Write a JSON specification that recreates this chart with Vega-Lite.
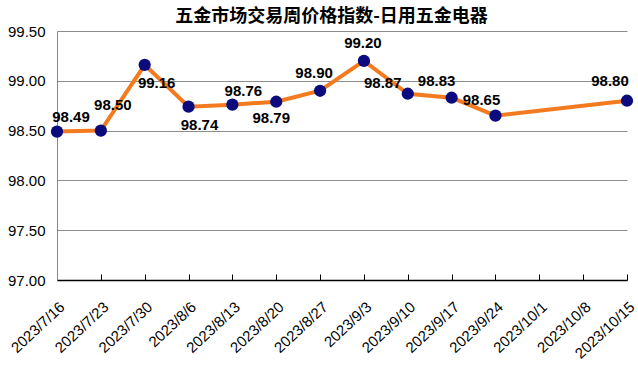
{
  "$schema": "https://vega.github.io/schema/vega-lite/v6.json",
  "width": 575,
  "height": 249,
  "autosize": "none",
  "padding": {"left": 57, "top": 31, "right": 6, "bottom": 85},
  "background": "white",
  "title": {"text": "五金市场交易周价格指数-日用五金电器", "font": "Noto Sans CJK SC", "fontSize": 18, "fontWeight": "bold", "color": "#000000", "anchor": "middle", "dx": -13, "offset": -2},
  "config": {"view": {"stroke": null}},
  "data": {"values": [
    {"date": "2023/7/16", "value": 98.49},
    {"date": "2023/7/23", "value": 98.50},
    {"date": "2023/7/30", "value": 99.16},
    {"date": "2023/8/6", "value": 98.74},
    {"date": "2023/8/13", "value": 98.76},
    {"date": "2023/8/20", "value": 98.79},
    {"date": "2023/8/27", "value": 98.90},
    {"date": "2023/9/3", "value": 99.20},
    {"date": "2023/9/10", "value": 98.87},
    {"date": "2023/9/17", "value": 98.83},
    {"date": "2023/9/24", "value": 98.65},
    {"date": "2023/10/15", "value": 98.80}
  ]},
  "encoding": {
    "x": {"field": "date", "type": "ordinal", "sort": null,
      "scale": {"type": "point", "padding": 0, "range": [0, 570],
        "domain": ["2023/7/16","2023/7/23","2023/7/30","2023/8/6","2023/8/13","2023/8/20","2023/8/27","2023/9/3","2023/9/10","2023/9/17","2023/9/24","2023/10/1","2023/10/8","2023/10/15"]},
      "axis": {"title": null, "labelAngle": -43, "labelAlign": "right", "labelBaseline": "top", "labelFont": "Liberation Sans", "labelFontSize": 15, "labelColor": "#000000", "labelPadding": 25, "domainColor": "#000000", "domainWidth": 1.5, "tickColor": "#000000", "tickSize": -6, "grid": false}},
    "y": {"field": "value", "type": "quantitative",
      "scale": {"domain": [97, 99.5], "nice": false, "zero": false},
      "axis": {"title": null, "values": [97, 97.5, 98, 98.5, 99, 99.5], "format": ".2f", "labelFont": "Liberation Sans", "labelFontSize": 15, "labelColor": "#000000", "labelPadding": 12, "ticks": false, "domainColor": "#888888", "grid": true, "gridColor": "#8c8c8c", "gridWidth": 1}}
  },
  "layer": [
    {"mark": {"type": "line", "color": "#F47A1F", "strokeWidth": 4}},
    {"mark": {"type": "circle", "color": "#0B0B7E", "opacity": 1, "size": 150}},
    {"transform": [{"filter": "datum.date === '2023/7/16'"}], "mark": {"type": "text", "dx": 14, "dy": -15, "font": "Liberation Sans", "fontSize": 15, "fontWeight": "bold", "color": "#000000"}, "encoding": {"text": {"field": "value", "format": ".2f"}}},
    {"transform": [{"filter": "datum.date === '2023/7/23'"}], "mark": {"type": "text", "dx": 12, "dy": -26, "font": "Liberation Sans", "fontSize": 15, "fontWeight": "bold", "color": "#000000"}, "encoding": {"text": {"field": "value", "format": ".2f"}}},
    {"transform": [{"filter": "datum.date === '2023/7/30'"}], "mark": {"type": "text", "dx": 12, "dy": 18, "font": "Liberation Sans", "fontSize": 15, "fontWeight": "bold", "color": "#000000"}, "encoding": {"text": {"field": "value", "format": ".2f"}}},
    {"transform": [{"filter": "datum.date === '2023/8/6'"}], "mark": {"type": "text", "dx": 11, "dy": 18, "font": "Liberation Sans", "fontSize": 15, "fontWeight": "bold", "color": "#000000"}, "encoding": {"text": {"field": "value", "format": ".2f"}}},
    {"transform": [{"filter": "datum.date === '2023/8/13'"}], "mark": {"type": "text", "dx": 11, "dy": -14, "font": "Liberation Sans", "fontSize": 15, "fontWeight": "bold", "color": "#000000"}, "encoding": {"text": {"field": "value", "format": ".2f"}}},
    {"transform": [{"filter": "datum.date === '2023/8/20'"}], "mark": {"type": "text", "dx": -5, "dy": 16, "font": "Liberation Sans", "fontSize": 15, "fontWeight": "bold", "color": "#000000"}, "encoding": {"text": {"field": "value", "format": ".2f"}}},
    {"transform": [{"filter": "datum.date === '2023/8/27'"}], "mark": {"type": "text", "dx": -6, "dy": -18, "font": "Liberation Sans", "fontSize": 15, "fontWeight": "bold", "color": "#000000"}, "encoding": {"text": {"field": "value", "format": ".2f"}}},
    {"transform": [{"filter": "datum.date === '2023/9/3'"}], "mark": {"type": "text", "dx": -1, "dy": -18, "font": "Liberation Sans", "fontSize": 15, "fontWeight": "bold", "color": "#000000"}, "encoding": {"text": {"field": "value", "format": ".2f"}}},
    {"transform": [{"filter": "datum.date === '2023/9/10'"}], "mark": {"type": "text", "dx": -25, "dy": -11, "font": "Liberation Sans", "fontSize": 15, "fontWeight": "bold", "color": "#000000"}, "encoding": {"text": {"field": "value", "format": ".2f"}}},
    {"transform": [{"filter": "datum.date === '2023/9/17'"}], "mark": {"type": "text", "dx": -15, "dy": -17, "font": "Liberation Sans", "fontSize": 15, "fontWeight": "bold", "color": "#000000"}, "encoding": {"text": {"field": "value", "format": ".2f"}}},
    {"transform": [{"filter": "datum.date === '2023/9/24'"}], "mark": {"type": "text", "dx": -14, "dy": -16, "font": "Liberation Sans", "fontSize": 15, "fontWeight": "bold", "color": "#000000"}, "encoding": {"text": {"field": "value", "format": ".2f"}}},
    {"transform": [{"filter": "datum.date === '2023/10/15'"}], "mark": {"type": "text", "dx": -17, "dy": -20, "font": "Liberation Sans", "fontSize": 15, "fontWeight": "bold", "color": "#000000"}, "encoding": {"text": {"field": "value", "format": ".2f"}}}
  ]
}
